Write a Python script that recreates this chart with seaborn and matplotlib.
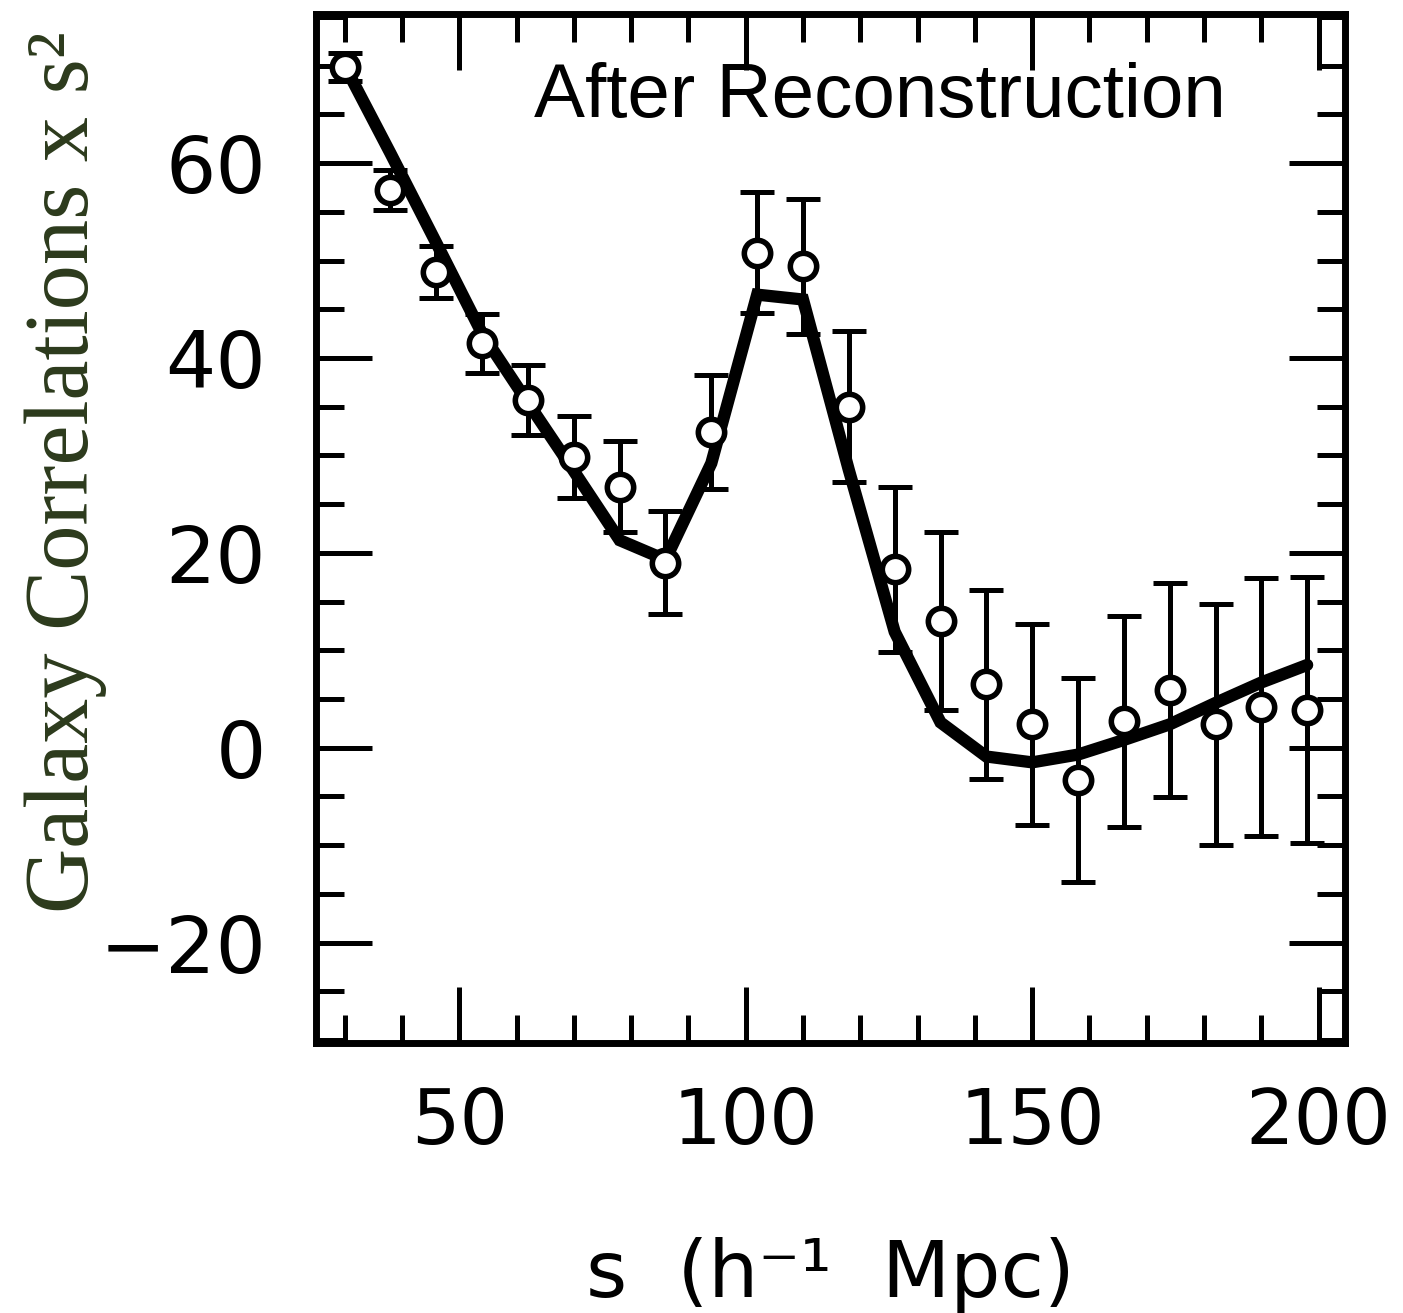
import numpy as np
import pandas as pd
import matplotlib
matplotlib.use("Agg")
import matplotlib.pyplot as plt
from matplotlib.ticker import MultipleLocator
import seaborn as sns

# ---- data ----
separation = [30, 38, 46, 54, 62, 70, 78, 86, 94, 102, 110,
              118, 126, 134, 142, 150, 158, 166, 174, 182, 190, 198]
corr_data = [69.85, 57.2, 48.8, 41.5, 35.7, 29.8, 26.8, 19.0, 32.4, 50.8, 49.4,
             35.0, 18.3, 13.0, 6.5, 2.4, -3.3, 2.7, 5.9, 2.4, 4.2, 3.9]
corr_err = [1.45, 2.05, 2.65, 3.0, 3.6, 4.2, 4.7, 5.3, 5.85, 6.2, 6.9,
            7.75, 8.5, 9.1, 9.7, 10.35, 10.5, 10.85, 11.0, 12.4, 13.25, 13.65]
corr_model = [70.0, 61.0, 51.8, 42.5, 35.4, 28.4, 21.3, 19.3, 29.2, 46.5, 46.0,
              28.5, 11.9, 2.6, -0.9, -1.5, -0.7, 0.8, 2.4, 4.6, 6.7, 8.5]
x_major_ticks = [50, 100, 150, 200]
y_major_ticks = [-20, 0, 20, 40, 60]

df = pd.DataFrame({"s": separation, "xi": corr_data, "err": corr_err, "model": corr_model})

sns.set_style("ticks")
plt.rcParams["font.family"] = ["DejaVu Sans"]
plt.rcParams["text.color"] = "black"
plt.rcParams["xtick.labelcolor"] = "black"
plt.rcParams["ytick.labelcolor"] = "black"

fig = plt.figure(figsize=(14.03, 13.13), dpi=100)
ax = fig.add_axes([316 / 1403, 1 - 1043 / 1313, (1345 - 316) / 1403, (1043 - 14) / 1313])

# model curve
sns.lineplot(data=df, x="s", y="model", ax=ax, color="black", linewidth=8.8,
             zorder=2, solid_joinstyle="miter")
# error bars
ax.errorbar(df["s"], df["xi"], yerr=df["err"], fmt="none", ecolor="black",
            elinewidth=3.6, capsize=12, capthick=3.6, zorder=3)
# data circles
sns.scatterplot(data=df, x="s", y="xi", ax=ax, marker="o", s=360,
                facecolor="white", edgecolor="black", linewidth=4.0, zorder=4)

ax.set_xlim(25, 204.6)
ax.set_ylim(-30.3, 75.3)
ax.set_xticks(x_major_ticks)
ax.set_yticks(y_major_ticks)
ax.xaxis.set_minor_locator(MultipleLocator(10))
ax.yaxis.set_minor_locator(MultipleLocator(5))

for sp in ax.spines.values():
    sp.set_linewidth(5)
    sp.set_color("black")

ax.tick_params(which="both", direction="in", top=True, right=True, width=3.6,
               color="black", labelcolor="black")
ax.tick_params(which="major", length=40)
ax.tick_params(which="minor", length=20)
ax.tick_params(axis="y", which="major", labelsize=57, pad=36)
ax.tick_params(axis="x", which="major", labelsize=55, pad=31)

ax.set_xlabel("s  (h\u207b\u00b9  Mpc)", fontsize=57, fontfamily="DejaVu Sans",
              va="baseline", color="black")
ax.xaxis.set_label_coords(0.5, -0.247)
ax.set_ylabel("Galaxy Correlations x s\u00b2", fontsize=65,
              fontfamily=["Liberation Serif", "DejaVu Serif"], color="#2C3A1C",
              va="baseline", ha="center")
ax.yaxis.set_label_coords(-0.2216, 0.555)

ax.text(0.548, 0.900, "After Reconstruction", transform=ax.transAxes,
        ha="center", va="baseline", fontsize=55,
        fontfamily=["Liberation Sans", "DejaVu Sans"], color="black")

fig.savefig("out.png", dpi=100, facecolor="white")
